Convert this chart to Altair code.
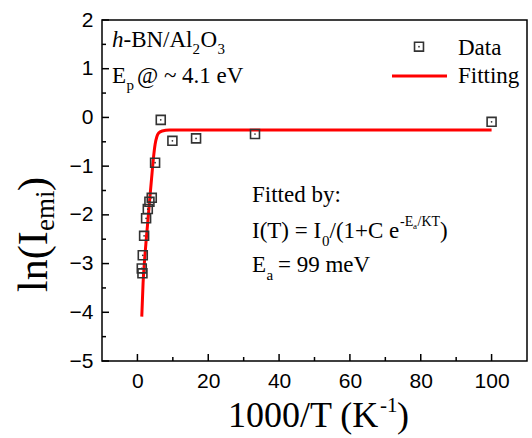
import altair as alt
import pandas as pd

# ---- data ----
data_x = [100, 33.2, 16.56, 9.88, 6.59, 4.99, 4.05, 3.39, 2.93, 2.45, 1.89, 1.51, 1.23, 1.42]
data_y = [-0.09, -0.34, -0.43, -0.48, -0.05, -0.93, -1.65, -1.73, -1.88, -2.07, -2.43, -2.83, -3.10, -3.20]

fit_x = [1.23, 1.6, 2.0, 2.5, 3.0, 3.5, 4.0, 4.5, 5.0, 5.5, 6.0, 7.0, 9.0, 20, 50, 100]
fit_y = [-4.09, -3.40, -2.95, -2.50, -2.08, -1.66, -1.25, -0.85, -0.55, -0.39, -0.32, -0.28, -0.26, -0.26, -0.26, -0.26]

y_major = [-5, -4, -3, -2, -1, 0, 1, 2]
y_minor = [-4.5, -3.5, -2.5, -1.5, -0.5, 0.5, 1.5]
x_major = [0, 20, 40, 60, 80, 100]
x_minor = [10, 30, 50, 70, 90]

W, H = 425, 341
XDOM = [-10, 110]
YDOM = [-5, 2]
SERIF = "Liberation Serif"
SANS = "Liberation Sans"
INK = "#333333"

df = pd.DataFrame({"x": data_x, "y": data_y})
fit = pd.DataFrame({"x": fit_x, "y": fit_y})

xs = alt.Scale(domain=XDOM, nice=False, zero=False)
ys = alt.Scale(domain=YDOM, nice=False, zero=False)

x_axis = alt.Axis(values=x_major, ticks=False, domain=False, grid=False, title=None,
                  labelFont=SANS, labelFontSize=21, labelColor="black", labelPadding=9)
y_axis = alt.Axis(values=y_major, ticks=False, domain=False, grid=False, title=None,
                  labelFont=SANS, labelFontSize=21, labelColor="black", labelPadding=9)

curve = alt.Chart(fit).mark_line(color="#ff0000", strokeWidth=3, interpolate="monotone").encode(
    x=alt.X("x:Q", scale=xs, axis=x_axis),
    y=alt.Y("y:Q", scale=ys, axis=y_axis),
)

squares = alt.Chart(df).mark_point(shape="square", size=80, filled=False, color=INK,
                                   strokeWidth=1.6, opacity=1).encode(
    x=alt.X("x:Q", scale=xs), y=alt.Y("y:Q", scale=ys))
dots = alt.Chart(df).mark_point(shape="circle", size=3, filled=True, color=INK, opacity=1).encode(
    x=alt.X("x:Q", scale=xs), y=alt.Y("y:Q", scale=ys))

# inward ticks drawn from tick lists through the scales
def yticks(vals, length):
    return alt.Chart(pd.DataFrame({"v": vals})).mark_rule(color="black", strokeWidth=1.5).encode(
        y=alt.Y("v:Q", scale=ys), x=alt.value(0), x2=alt.value(length))

def xticks(vals, length):
    return alt.Chart(pd.DataFrame({"v": vals})).mark_rule(color="black", strokeWidth=1.5).encode(
        x=alt.X("v:Q", scale=xs), y=alt.value(H), y2=alt.value(H - length))

# text segments (annotations, titles, legend) : text, px, py, size, angle, font style
segs = [
    # line 1: h-BN/Al2O3
    ("h", 10, 27, 23, 0, "italic"),
    ("-BN/Al", 21.5, 27, 23, 0, "normal"),
    ("2", 90.5, 34, 15, 0, "normal"),
    ("O", 98.5, 27, 23, 0, "normal"),
    ("3", 115.5, 34, 15, 0, "normal"),
    # line 2: Ep @ ~ 4.1 eV
    ("E", 10, 63, 23, 0, "normal"),
    ("p", 24.5, 70, 15, 0, "normal"),
    ("@ ~ 4.1 eV", 35, 63, 23, 0, "normal"),
    # fitted block
    ("Fitted by:", 150, 182, 23, 0, "normal"),
    ("I(T) = I", 150, 218, 23, 0, "normal"),
    ("0", 220, 226, 15, 0, "normal"),
    ("/(1+C e", 227.5, 218, 23, 0, "normal"),
    ("-E", 298, 206, 14, 0, "normal"),
    ("a", 311, 209, 9, 0, "normal"),
    ("/KT", 315.5, 206, 14, 0, "normal"),
    (")", 338, 218, 23, 0, "normal"),
    ("E", 150, 252, 23, 0, "normal"),
    ("a", 164.5, 260, 15, 0, "normal"),
    ("= 99 meV", 176, 252, 23, 0, "normal"),
    # legend labels
    ("Data", 356, 35, 23, 0, "normal"),
    ("Fitting", 356, 63, 23, 0, "normal"),
    # x title
    ("1000/T (K", 126, 407, 36, 0, "normal"),
    ("-1", 278, 392, 21, 0, "normal"),
    (")", 295, 407, 36, 0, "normal"),
    # y title (rotated)
    ("ln(I", -55, 272, 42, 270, "normal"),
    ("emi", -48, 211, 27, 270, "normal"),
    (")", -55, 171, 42, 270, "normal"),
]
seg_df = pd.DataFrame(segs, columns=["t", "px", "py", "size", "angle", "style"])

def text_layer(style):
    d = seg_df[seg_df["style"] == style]
    return alt.Chart(d).mark_text(font=SERIF, color="black", align="left", baseline="alphabetic",
                                  fontStyle=style).encode(
        x=alt.X("px:Q", scale=None), y=alt.Y("py:Q", scale=None),
        text="t:N", size=alt.Size("size:Q", scale=None, legend=None),
        angle=alt.Angle("angle:Q", scale=None))

one = pd.DataFrame({"k": [0]})
leg_sq = alt.Chart(one).mark_point(shape="square", size=80, filled=False, color=INK,
                                   strokeWidth=1.6, opacity=1).encode(x=alt.value(317), y=alt.value(26.7))
leg_dot = alt.Chart(one).mark_point(shape="circle", size=3, filled=True, color=INK,
                                    opacity=1).encode(x=alt.value(317), y=alt.value(26.7))
leg_line = alt.Chart(one).mark_rule(color="#ff0000", strokeWidth=3).encode(
    x=alt.value(290), x2=alt.value(345), y=alt.value(56))

chart = alt.layer(
    curve, squares, dots,
    yticks(y_major, 7), yticks(y_minor, 4), xticks(x_major, 7), xticks(x_minor, 4),
    text_layer("normal"), text_layer("italic"),
    leg_sq, leg_dot, leg_line,
).properties(
    width=W, height=H,
    autosize=alt.AutoSizeParams(type="none"),
    padding={"left": 102, "top": 20, "right": 5, "bottom": 77},
    background="white",
).configure_view(stroke="black", strokeWidth=1.5)

chart.save("out.html", embed_options={"renderer": "svg", "actions": False})
